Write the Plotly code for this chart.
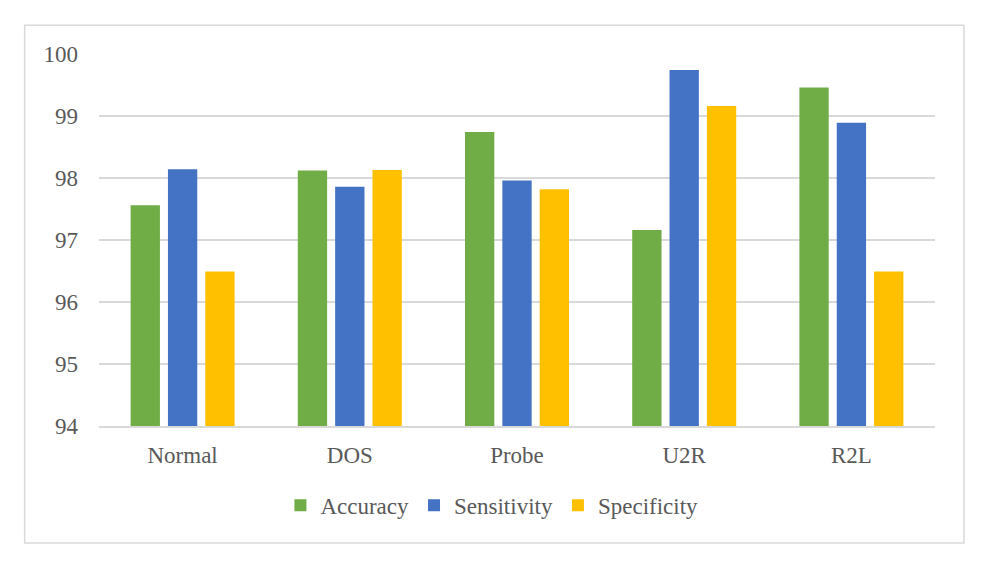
import plotly.graph_objects as go

categories = ["Normal", "DOS", "Probe", "U2R", "R2L"]
accuracy = [97.56, 98.12, 98.74, 97.16, 99.46]
sensitivity = [98.14, 97.86, 97.96, 99.74, 98.89]
specificity = [96.49, 98.13, 97.82, 99.16, 96.49]
y_ticks = [94, 95, 96, 97, 98, 99, 100]

series = [
    ("Accuracy", accuracy, "#70AD47"),
    ("Sensitivity", sensitivity, "#4472C4"),
    ("Specificity", specificity, "#FFC000"),
]

fig = go.Figure()
for name, vals, color in series:
    fig.add_trace(go.Bar(x=categories, y=vals, name=name, marker_color=color,
                         marker_line_width=0))

font_family = "Liberation Serif"
text_color = "#595959"
grid_color = "#D9D9D9"
fsize = 23

fig.update_layout(
    width=984, height=564,
    margin=dict(l=99, r=49, t=54, b=138),
    paper_bgcolor="white", plot_bgcolor="white",
    barmode="group", bargap=0.33, bargroupgap=0.215,
    font=dict(family=font_family, size=fsize, color=text_color),
    showlegend=True,
    legend=dict(orientation="h", x=0.47, y=-0.213, xanchor="center", yanchor="middle",
                font=dict(family=font_family, size=fsize, color=text_color),
                itemwidth=30, traceorder="normal"),
    xaxis=dict(showgrid=False, showline=True, linecolor=grid_color, linewidth=1.5,
               ticks="", ticklabelstandoff=8,
               tickfont=dict(family=font_family, size=fsize, color=text_color)),
    yaxis=dict(range=[94, 100], tickvals=y_ticks, showgrid=True, gridcolor=grid_color,
               gridwidth=1.5, zeroline=False, showline=False, ticks="",
               ticklabelstandoff=20,
               tickfont=dict(family=font_family, size=fsize, color=text_color)),
    shapes=[dict(type="rect", xref="paper", yref="paper",
                 x0=-0.0889, x1=1.0347, y0=-0.3145, y1=1.077,
                 line=dict(color=grid_color, width=1.5), fillcolor="rgba(0,0,0,0)",
                 layer="below")],
)

fig.write_html("out.html")
